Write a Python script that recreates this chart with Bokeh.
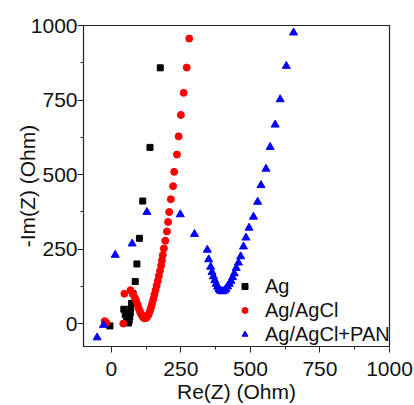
from bokeh.plotting import figure
from bokeh.models import FixedTicker, Legend, LegendItem, Range1d
from bokeh.embed import file_html
from bokeh.resources import INLINE

# Ag
ag_x = [-5, 45, 50, 55, 58, 62, 64, 66, 68, 70, 73, 78, 86, 92, 101, 113, 139, 176]
ag_y = [-8, 48, 30, 15, 5, 2, 10, 22, 35, 50, 68, 100, 141, 200, 286, 411, 591, 858]

# Ag/AgCl
agcl_x = [-24, -18, 43, 47, 69, 78, 85, 90, 95, 99, 103, 107, 111, 115, 119, 123, 127,
          131, 135, 139, 143, 147, 151, 155, 159, 163, 167, 171, 175, 179, 182, 185,
          189, 194, 200, 204, 208, 214, 222, 226, 236, 242, 250, 260, 271, 280]
agcl_y = [8, 3, 0, 100, 112, 98, 86, 75, 62, 50, 40, 32, 25, 20, 18, 18, 20,
          25, 33, 43, 55, 68, 82, 97, 112, 127, 143, 160, 177, 195, 212, 230,
          252, 278, 309, 341, 374, 417, 461, 509, 567, 628, 700, 774, 859, 956]

# Ag/AgCl+PAN
pan_x = [-51, -28, 14, 75, 128, 248, 299, 345, 350, 357, 362, 367, 372, 377, 382, 387,
         392, 397, 402, 407, 412, 418, 424, 430, 436, 442, 449, 457, 465, 475, 484,
         495, 511, 526, 538, 556, 571, 589, 607, 629, 655]
pan_y = [-47, -5, 230, 268, 374, 366, 300, 247, 215, 190, 172, 158, 145, 133, 123, 115,
         110, 108, 108, 111, 116, 124, 133, 143, 155, 168, 186, 204, 225, 258, 288,
         321, 358, 408, 464, 519, 592, 667, 752, 864, 976]

x_ticks = [0, 250, 500, 750, 1000]
x_minor = [125, 375, 625, 875]
y_ticks = [0, 250, 500, 750, 1000]
y_minor = [125, 375, 625, 875]

FONT = "Liberation Sans"

p = figure(width=414, height=405, output_backend="svg", toolbar_location=None,
           x_range=Range1d(-100, 1000), y_range=Range1d(-77, 1000),
           min_border_left=83, min_border_right=25, min_border_top=25, min_border_bottom=57)
p.background_fill_color = "white"
p.border_fill_color = "white"
p.outline_line_color = "#222222"
p.outline_line_width = 1.2
p.grid.visible = False

r1 = p.scatter(ag_x, ag_y, marker="square", size=6, color="black")
r2 = p.scatter(agcl_x, agcl_y, marker="circle", size=7, color="#ff0000")
r3 = p.scatter(pan_x, pan_y, marker="triangle", size=8, color="#0000ff")

for ax, ticks, minor in ((p.xaxis[0], x_ticks, x_minor), (p.yaxis[0], y_ticks, y_minor)):
    ax.ticker = FixedTicker(ticks=ticks, minor_ticks=minor)
    ax.major_label_text_font = FONT
    ax.major_label_text_font_size = "21px"
    ax.major_label_text_color = "#111111"
    ax.axis_label_text_font = FONT
    ax.axis_label_text_font_size = "21px"
    ax.axis_label_text_font_style = "normal"
    ax.axis_label_text_color = "#111111"
    ax.axis_line_color = "#222222"
    ax.major_tick_line_color = "#222222"
    ax.minor_tick_line_color = "#222222"
    ax.major_tick_in = 0
    ax.major_tick_out = 6
    ax.minor_tick_in = 0
    ax.minor_tick_out = 3

p.xaxis.major_label_standoff = 9
p.yaxis.major_label_standoff = 0
p.xaxis.axis_label = "Re(Z) (Ohm)"
p.yaxis.axis_label = "-Im(Z) (Ohm)"
p.xaxis.axis_label_standoff = 1
p.yaxis.axis_label_standoff = -11

legend = Legend(items=[LegendItem(label="Ag", renderers=[r1]),
                       LegendItem(label="Ag/AgCl", renderers=[r2]),
                       LegendItem(label="Ag/AgCl+PAN", renderers=[r3])],
                location=(154, 0), padding=0, margin=0, spacing=0,
                glyph_width=15, glyph_height=24, label_height=24, label_standoff=13,
                background_fill_alpha=0, border_line_alpha=0,
                label_text_font=FONT, label_text_font_size="20px", label_text_color="#111111")
p.add_layout(legend, "center")

open("out.html", "w").write(file_html(p, INLINE))
